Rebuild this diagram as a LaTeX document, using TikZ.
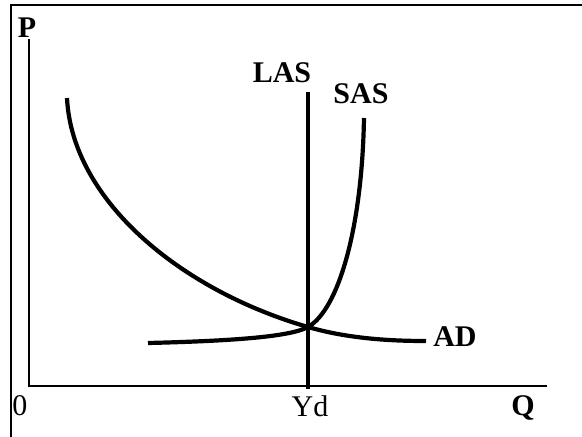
\documentclass[tikz,border=0pt]{standalone}
\usepackage{fontspec}
\setmainfont{Liberation Serif}

\begin{document}
\begin{tikzpicture}[
	x=1pt,
	y=-1pt,
	axisline/.style={
		line width=1.8pt
	},
	econcurve/.style={
		line width=4.2pt
	},
	lbl/.style={
		anchor=base,
		inner sep=0pt,
		font=\fontsize{30}{30}\selectfont\bfseries
	},
	num/.style={
		lbl,
		font=\fontsize{30}{30}\selectfont
	}
	]
	\useasboundingbox (0,0) rectangle (582,437);

	% Frame round the figure, only its top and left edges are in view
	\draw[line width=2pt] (582,5) -- (11,5) -- (11,437);

	% Price and quantity axes
	\coordinate (O) at (29,386);
	\coordinate (Ptop) at (29,39);
	\coordinate (Qend) at (547,386);
	\draw[axisline] (Ptop) -- (O) -- (Qend);

	% Equilibrium point where the three curves cross
	\coordinate (E) at (308,327);

	% Long run supply: vertical at Yd
	\coordinate (LAStop) at (308,92);
	\coordinate (LASbot) at (308,389);
	\draw[line width=4.8pt] (LAStop) -- (LASbot);

	% Short run supply
	\coordinate (SASlow) at (148,343);
	\coordinate (SAShigh) at (364,118);
	\draw[econcurve] (SASlow) .. controls (230,341) and (290,337) .. (E)
		.. controls (338,310) and (362,230) .. (SAShigh);

	% Aggregate demand
	\coordinate (ADhigh) at (67,98);
	\coordinate (ADlow) at (426,341);
	\draw[econcurve] (ADhigh) .. controls (72,200) and (180,290) .. (E)
		.. controls (348,338.6) and (390,341) .. (ADlow);

	% Labels
	\node[lbl] (P) at (27,37) {P};
	\node[num] (zero) at (20,415) {0};
	\node[num] (Yd) at (310,416) {Yd};
	\node[lbl] (Q) at (523,415) {Q};
	\node[lbl] (LAS) at (282,82) {LAS};
	\node[lbl] (SAS) at (361,103) {SAS};
	\node[lbl] (AD) at (455,346) {AD};
\end{tikzpicture}
\end{document}
